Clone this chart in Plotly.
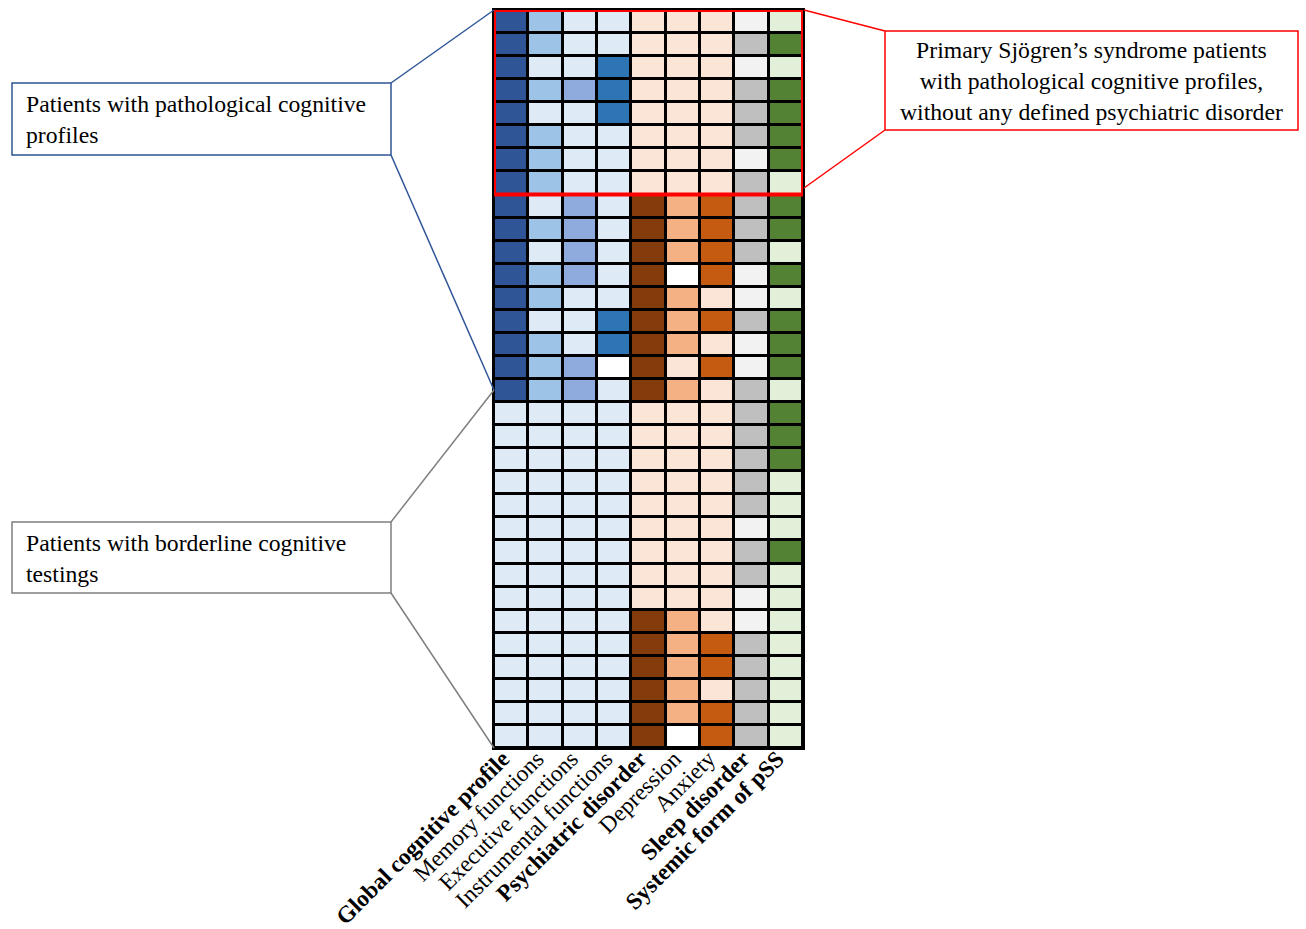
import plotly.graph_objects as go

# ---- data: one code list per column (32 patients, top to bottom) ----
columns = ["<b>Global cognitive profile</b>", "Memory functions", "Executive functions",
           "Instrumental functions", "<b>Psychiatric disorder</b>", "Depression", "Anxiety",
           "<b>Sleep disorder</b>", "<b>Systemic form of pSS</b>"]

global_cognitive = ("DB " * 17 + "LB " * 15).split()
memory_functions = ("MB MB LB MB LB MB MB MB " + "LB MB LB MB MB LB MB MB MB " + "LB " * 15).split()
executive_functions = ("LB LB LB PB LB LB LB LB " + "PB PB PB PB LB LB LB PB PB " + "LB " * 15).split()
instrumental_functions = ("LB LB SB SB SB LB LB LB " + "LB LB LB LB LB SB SB WH LB " + "LB " * 15).split()
psychiatric_disorder = ("PE " * 8 + "BR " * 9 + "PE " * 9 + "BR " * 6).split()
depression = ("PE " * 8 + "SA SA SA WH SA SA SA PE SA " + "PE " * 9 + "SA SA SA SA SA WH").split()
anxiety = ("PE " * 8 + "OR OR OR OR PE OR PE OR PE " + "PE " * 9 + "PE OR OR PE OR OR").split()
sleep_disorder = ("LG GR LG GR GR GR LG GR " + "GR GR GR LG LG GR LG LG GR "
                  + "GR GR GR GR GR LG GR GR LG LG GR GR GR GR GR").split()
systemic_form = ("GG DG GG DG DG DG DG GG " + "DG DG GG DG GG DG DG DG GG "
                 + "DG DG DG GG GG GG DG GG GG GG GG GG GG GG GG").split()

data_cols = [global_cognitive, memory_functions, executive_functions, instrumental_functions,
             psychiatric_disorder, depression, anxiety, sleep_disorder, systemic_form]

palette = {
    "DB": "#2F5597", "MB": "#9DC3E6", "PB": "#8FAADC", "LB": "#DEEBF7", "SB": "#2E75B6",
    "PE": "#FBE5D6", "BR": "#843C0C", "SA": "#F4B183", "OR": "#C55A11",
    "GR": "#BFBFBF", "LG": "#F2F2F2", "DG": "#548235", "GG": "#E2F0D9", "WH": "#FFFFFF",
}
codes = list(palette.keys())
N = len(codes)
n_rows = len(global_cognitive)

z = [[codes.index(col[r]) for col in data_cols] for r in range(n_rows)]
colorscale = []
for i, c in enumerate(codes):
    colorscale.append([i / N, palette[c]])
    colorscale.append([(i + 1) / N, palette[c]])

fig = go.Figure(go.Heatmap(
    z=z, x=list(range(len(columns))), y=list(range(n_rows)),
    colorscale=colorscale, zmin=-0.5, zmax=N - 0.5, showscale=False,
    xgap=3, ygap=3, hoverinfo="skip"))

W, H = 1306, 929
# grid edges in page pixels (body margin removed via post_script)
GL, GR_, GT, GB = 494, 803, 10, 748
L, R, T, B = GL, GR_, GT, GB

def px(x):
    return (x - GL) / (GR_ - GL)

def py(y):
    return (GB - y) / (GB - GT)

shapes = []
# red box around first 8 rows
shapes.append(dict(type="rect", xref="x", yref="y", x0=-0.5, x1=8.5, y0=-0.5, y1=7.5,
                   line=dict(color="#FF0000", width=4)))

def box(x0, y0, x1, y1, color):
    shapes.append(dict(type="rect", xref="paper", yref="paper", x0=px(x0), x1=px(x1),
                       y0=py(y1), y1=py(y0), line=dict(color=color, width=1.5),
                       fillcolor="white", layer="above"))

def line(x0, y0, x1, y1, color):
    shapes.append(dict(type="line", xref="paper", yref="paper", x0=px(x0), x1=px(x1),
                       y0=py(y0), y1=py(y1), line=dict(color=color, width=1.5)))

blue, grey, red = "#2F5597", "#7F7F7F", "#FF0000"
box(12, 83, 391, 155, blue)
line(391, 83, 494, 10, blue)
line(391, 155, 494, 390, blue)
box(12, 522, 391, 593, grey)
line(391, 522, 494, 390, grey)
line(391, 593, 494, 748, grey)
box(885, 31, 1298, 130, red)
line(885, 31, 804, 10, red)
line(885, 130, 804, 188, red)

serif = "Liberation Serif, Times New Roman, serif"
font = dict(family=serif, color="black", size=23.7)
annotations = [
    dict(xref="paper", yref="paper", x=px(24), y=py(119.5), xanchor="left", yanchor="middle",
         align="left", showarrow=False, font=font,
         text="Patients with pathological cognitive<br>profiles"),
    dict(xref="paper", yref="paper", x=px(24), y=py(558), xanchor="left", yanchor="middle",
         align="left", showarrow=False, font=font,
         text="Patients with borderline cognitive<br>testings"),
    dict(xref="paper", yref="paper", x=px(1091), y=py(81), xanchor="center", yanchor="middle",
         align="center", showarrow=False, font=font,
         text="Primary Sjögren’s syndrome patients<br>with pathological cognitive profiles,<br>without any defined psychiatric disorder"),
]

fig.update_layout(
    width=W, height=H,
    margin=dict(l=L, r=W - R, t=T, b=H - B, pad=0, autoexpand=False),
    paper_bgcolor="white", plot_bgcolor="black",
    shapes=shapes, annotations=annotations, showlegend=False,
    xaxis=dict(range=[-0.5, 8.5], tickvals=[i - 0.25 for i in range(len(columns))], ticktext=columns,
               tickangle=-45, showgrid=False, zeroline=False, showline=True, mirror=True,
               linecolor="black", linewidth=2, ticks="", ticklabelstandoff=-14, automargin=False,
               tickfont=dict(family=serif, size=23.3, color="black")),
    yaxis=dict(range=[n_rows - 0.5, -0.5], showticklabels=False, showgrid=False, zeroline=False,
               showline=True, mirror=True, linecolor="black", linewidth=2, ticks="", automargin=False),
)

fig.write_html("out.html", config={"displayModeBar": False},
               post_script="document.body.style.margin='0';document.body.style.overflow='hidden';")
